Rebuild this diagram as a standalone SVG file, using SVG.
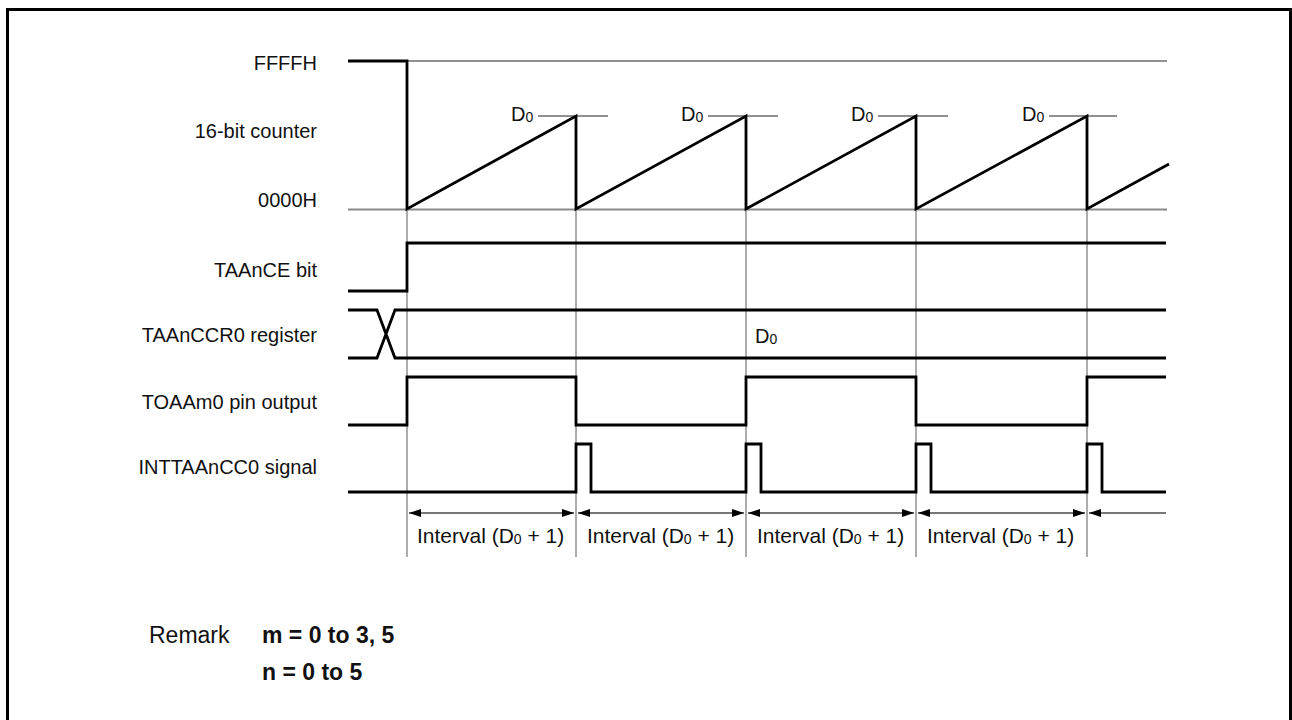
<svg xmlns="http://www.w3.org/2000/svg" width="1292" height="720" viewBox="0 0 1292 720">
<style>
text{font-family:"Liberation Sans",Arial,sans-serif;fill:#111}
.lbl{font-size:20px;text-anchor:end}
.d0{font-size:20px}
.iv{font-size:21px}
.sub{font-size:14px}
.sig{fill:none;stroke:#000;stroke-width:2.8;stroke-linejoin:miter}
.thin{fill:none;stroke:#222;stroke-width:1.2}
.guide{fill:none;stroke:#808080;stroke-width:1.3}
.base{fill:none;stroke:#8a8a8a;stroke-width:2}
.arr{fill:none;stroke:#777;stroke-width:2}
.rem{font-size:23px}
.remb{font-size:23px;font-weight:bold}
</style>
<defs>
<marker id="ah" viewBox="0 0 12 8" refX="12" refY="4" markerWidth="12" markerHeight="8" markerUnits="userSpaceOnUse" orient="auto-start-reverse">
<path d="M0,0 L12,4 L0,8 Z" fill="#000"/>
</marker>
</defs>
<path d="M7.5,724 V9.5 H1290.5 V724" fill="none" stroke="#000" stroke-width="3"/>
<g id="labels">
<text class="lbl" x="317" y="70">FFFFH</text>
<text class="lbl" x="317" y="138">16-bit counter</text>
<text class="lbl" x="317" y="207">0000H</text>
<text class="lbl" x="317" y="277">TAAnCE bit</text>
<text class="lbl" x="317" y="342">TAAnCCR0 register</text>
<text class="lbl" x="317" y="409">TOAAm0 pin output</text>
<text class="lbl" x="317" y="474">INTTAAnCC0 signal</text>
</g>
<g id="connectors">
<g id="guides">
<path class="guide" d="M407,209 V557 M576,209 V557 M746,209 V557 M916,209 V557 M1087,209 V557"/>
</g>
<path class="thin" d="M407,61 H1167"/>
<path class="base" d="M348,209.5 H1167"/>
<path class="thin" d="M538,116 H608 M708,116 H778 M878,116 H948 M1049,116 H1117"/>
</g>
<g id="counter">
<path class="sig" d="M348,61 H407 V209 L576,116 V209 L746,116 V209 L916,116 V209 L1087,116 V209 L1169,164"/>
<text class="d0" x="511" y="121">D<tspan class="sub" dy="1">0</tspan></text>
<text class="d0" x="681" y="121">D<tspan class="sub" dy="1">0</tspan></text>
<text class="d0" x="851" y="121">D<tspan class="sub" dy="1">0</tspan></text>
<text class="d0" x="1022" y="121">D<tspan class="sub" dy="1">0</tspan></text>
</g>
<g id="taance">
<path class="sig" d="M348,291 H407 V243 H1166"/>
</g>
<g id="taanccr0">
<path class="sig" d="M348,310 H377 L395,358 H1166 M348,358 H377 L395,310 H1166"/>
<text class="d0" x="755" y="343">D<tspan class="sub" dy="1">0</tspan></text>
</g>
<g id="toaam0">
<path class="sig" d="M348,425 H407 V377 H576 V425 H746 V377 H916 V425 H1087 V377 H1166"/>
</g>
<g id="inttaancc0">
<path class="sig" d="M348,492 H576 V444 H591 V492 H746 V444 H761 V492 H916 V444 H931 V492 H1087 V444 H1102 V492 H1166"/>
</g>
<g id="intervals">
<path class="arr" d="M409,513 H574" marker-start="url(#ah)" marker-end="url(#ah)"/>
<path class="arr" d="M578,513 H744" marker-start="url(#ah)" marker-end="url(#ah)"/>
<path class="arr" d="M748,513 H914" marker-start="url(#ah)" marker-end="url(#ah)"/>
<path class="arr" d="M918,513 H1085" marker-start="url(#ah)" marker-end="url(#ah)"/>
<path class="arr" d="M1089,513 H1166" marker-start="url(#ah)"/>
<text class="iv" x="417" y="543">Interval (D<tspan class="sub" dy="1">0</tspan><tspan dy="-1"> + 1)</tspan></text>
<text class="iv" x="587" y="543">Interval (D<tspan class="sub" dy="1">0</tspan><tspan dy="-1"> + 1)</tspan></text>
<text class="iv" x="757" y="543">Interval (D<tspan class="sub" dy="1">0</tspan><tspan dy="-1"> + 1)</tspan></text>
<text class="iv" x="927" y="543">Interval (D<tspan class="sub" dy="1">0</tspan><tspan dy="-1"> + 1)</tspan></text>
</g>
<g id="remark">
<text class="rem" x="149" y="643">Remark</text>
<text class="remb" x="262" y="643">m = 0 to 3, 5</text>
<text class="remb" x="262" y="680">n = 0 to 5</text>
</g>
</svg>
